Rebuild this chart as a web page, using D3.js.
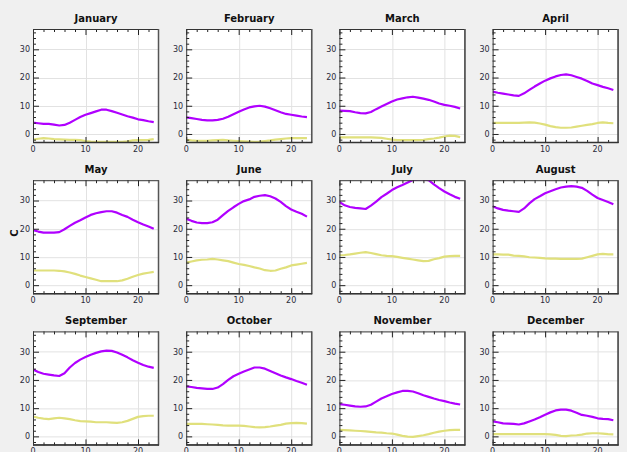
<!DOCTYPE html>
<html>
<head>
<meta charset="utf-8">
<script src="https://cdn.jsdelivr.net/npm/d3@7"></script>
<style>
  html, body { margin: 0; padding: 0; background: #f0f0f0; }
  svg { display: block; }
</style>
</head>
<body>
<script>
const months = ["January","February","March","April","May","June","July","August","September","October","November","December"];
const hours = d3.range(0, 24);
const xTicks = [0, 10, 20];
const yTicks = [0, 10, 20, 30];
const yLabel = "C";

// Daily max (purple) per month, hourly 0..23
const maxSeries = [
  [4.0,3.8,3.6,3.6,3.3,3.0,3.2,4.0,5.0,6.0,6.8,7.4,8.0,8.6,8.6,8.1,7.5,6.9,6.3,5.8,5.2,4.9,4.5,4.2],
  [5.9,5.6,5.3,5.0,4.8,4.8,5.0,5.4,6.1,7.0,7.9,8.7,9.4,9.8,10.0,9.7,9.1,8.4,7.7,7.1,6.8,6.5,6.2,6.0],
  [8.3,8.2,8.1,7.7,7.4,7.3,7.8,8.8,9.7,10.6,11.5,12.2,12.6,13.0,13.2,12.9,12.5,12.1,11.5,10.8,10.3,10.0,9.6,9.0],
  [15.0,14.6,14.3,14.0,13.7,13.5,14.4,15.6,16.8,17.9,18.9,19.7,20.4,20.9,21.1,20.8,20.2,19.6,18.8,17.9,17.3,16.7,16.2,15.6],
  [19.5,19.0,18.6,18.6,18.6,18.8,19.8,21.0,22.1,23.0,24.0,24.9,25.5,25.9,26.2,26.2,25.7,24.9,24.2,23.2,22.3,21.5,20.8,20.0],
  [23.5,22.8,22.2,22.0,22.0,22.3,23.2,24.8,26.3,27.6,28.8,29.8,30.4,31.3,31.7,31.9,31.5,30.7,29.5,28.0,26.8,26.0,25.3,24.3],
  [29.5,28.3,27.7,27.4,27.2,27.0,28.2,29.6,31.2,32.4,33.7,34.7,35.5,36.4,37.3,37.5,37.5,37.2,35.7,34.4,33.2,32.2,31.3,30.6],
  [28.0,27.2,26.7,26.4,26.2,26.0,27.2,29.0,30.5,31.5,32.6,33.3,34.0,34.6,34.9,35.1,34.9,34.5,33.4,32.1,30.9,30.2,29.5,28.7],
  [23.7,22.8,22.2,21.9,21.6,21.4,22.4,24.4,26.0,27.2,28.1,28.9,29.6,30.1,30.4,30.3,29.7,28.9,28.0,27.0,26.1,25.3,24.7,24.3],
  [17.7,17.5,17.2,17.0,16.8,16.8,17.3,18.5,20.0,21.3,22.2,23.0,23.7,24.4,24.4,24.0,23.2,22.4,21.6,20.9,20.3,19.6,19.0,18.3],
  [11.4,11.2,10.9,10.6,10.5,10.6,11.2,12.3,13.4,14.2,15.0,15.6,16.1,16.1,15.9,15.3,14.6,14.0,13.4,12.9,12.5,12.0,11.6,11.3],
  [5.3,5.0,4.6,4.5,4.4,4.2,4.6,5.3,6.0,6.8,7.7,8.5,9.2,9.5,9.5,9.1,8.4,7.6,7.3,6.9,6.4,6.2,6.1,5.7]
];

// Daily min (yellow) per month, hourly 0..23
const minSeries = [
  [-2.0,-1.7,-1.5,-1.6,-1.8,-1.9,-2.0,-2.1,-2.1,-2.2,-2.5,-2.7,-2.8,-2.8,-2.8,-2.8,-2.8,-2.8,-2.6,-2.3,-2.2,-2.2,-2.1,-1.8],
  [-2.1,-2.3,-2.4,-2.4,-2.4,-2.3,-2.2,-2.1,-2.3,-2.4,-2.5,-2.6,-2.7,-2.8,-2.7,-2.5,-2.3,-2.0,-1.8,-1.6,-1.5,-1.5,-1.5,-1.5],
  [-1.2,-1.2,-1.2,-1.2,-1.2,-1.2,-1.2,-1.3,-1.4,-1.7,-2.0,-2.2,-2.2,-2.2,-2.2,-2.2,-2.1,-1.8,-1.6,-1.3,-0.9,-0.6,-0.7,-1.1],
  [3.9,3.9,3.9,3.9,3.9,3.9,4.0,4.1,4.0,3.7,3.3,2.8,2.4,2.2,2.2,2.3,2.6,2.9,3.2,3.5,3.9,4.1,3.9,3.8],
  [5.2,5.2,5.2,5.2,5.2,5.1,4.9,4.5,4.0,3.4,2.9,2.4,1.9,1.4,1.4,1.4,1.4,1.7,2.3,3.0,3.6,4.1,4.4,4.7],
  [8.0,8.4,8.8,9.0,9.1,9.3,9.1,8.8,8.5,8.0,7.5,7.2,6.8,6.3,5.9,5.3,5.1,5.2,5.8,6.3,7.0,7.3,7.6,7.9],
  [10.6,10.7,10.9,11.2,11.5,11.7,11.4,11.0,10.6,10.4,10.3,10.0,9.7,9.4,9.1,8.8,8.5,8.6,9.2,9.6,10.1,10.3,10.4,10.4],
  [10.9,10.9,10.8,10.8,10.5,10.4,10.2,9.9,9.8,9.7,9.5,9.4,9.4,9.3,9.3,9.3,9.3,9.4,9.9,10.4,10.9,11.1,10.9,10.9],
  [7.0,6.6,6.3,6.1,6.4,6.6,6.4,6.1,5.7,5.4,5.3,5.2,5.0,5.0,5.0,4.9,4.8,5.0,5.5,6.2,6.9,7.2,7.3,7.3],
  [4.4,4.4,4.4,4.4,4.3,4.2,4.1,3.9,3.8,3.8,3.8,3.7,3.5,3.3,3.2,3.3,3.5,3.8,4.1,4.5,4.7,4.8,4.7,4.5],
  [2.3,2.2,2.1,2.0,1.9,1.8,1.6,1.4,1.3,1.1,1.0,0.6,0.2,-0.1,-0.2,0.1,0.4,0.8,1.3,1.7,2.0,2.2,2.3,2.3],
  [0.8,0.8,0.8,0.8,0.8,0.8,0.8,0.8,0.8,0.8,0.8,0.7,0.5,0.2,0.1,0.3,0.4,0.6,1.0,1.1,1.1,1.0,0.8,0.7]
];

const W = 627, H = 452;
const plotW = 126, plotH = 114;
const colX0 = 33, colStep = 153.2;
const rowY0 = 29, rowStep = 151.2;
const maxColor = "#b000ff";
const minColor = "#e0e07c";

const svg = d3.select("body").append("svg").attr("width", W).attr("height", H);
svg.append("rect").attr("width", W).attr("height", H).attr("fill", "#f0f0f0");

const x = d3.scaleLinear().domain([0, 24]).range([0, plotW]);
const y = d3.scaleLinear().domain([-3.2, 37.2]).range([plotH, 0]);

const defs = svg.append("defs");
defs.append("clipPath").attr("id", "clip")
  .append("rect").attr("x", 0).attr("y", 0).attr("width", plotW).attr("height", plotH);

const line = d3.line().x((d, i) => x(hours[i])).y(d => y(d));

months.forEach((m, k) => {
  const c = k % 4, r = Math.floor(k / 4);
  const g = svg.append("g").attr("transform", `translate(${colX0 + c * colStep},${rowY0 + r * rowStep})`);

  g.append("rect").attr("width", plotW).attr("height", plotH).attr("fill", "#fff");

  // grid
  g.append("g").selectAll("line").data(yTicks).join("line")
    .attr("x1", 0).attr("x2", plotW)
    .attr("y1", d => Math.round(y(d)) + 0.5).attr("y2", d => Math.round(y(d)) + 0.5)
    .attr("stroke", "#e2e2e2").attr("stroke-width", 1);
  g.append("g").selectAll("line").data(xTicks.filter(d => d > 0)).join("line")
    .attr("y1", 0).attr("y2", plotH)
    .attr("x1", d => Math.round(x(d)) + 0.5).attr("x2", d => Math.round(x(d)) + 0.5)
    .attr("stroke", "#e2e2e2").attr("stroke-width", 1);

  // series
  const lines = g.append("g").attr("clip-path", "url(#clip)");
  lines.append("path").attr("d", line(minSeries[k])).attr("fill", "none")
    .attr("stroke", minColor).attr("stroke-width", 2.2).attr("stroke-linejoin", "round");
  lines.append("path").attr("d", line(maxSeries[k])).attr("fill", "none")
    .attr("stroke", maxColor).attr("stroke-width", 2.2).attr("stroke-linejoin", "round");

  // left axis (ticks inward)
  const yAxis = d3.axisRight(y).tickValues(yTicks).tickSize(6).tickFormat("");
  g.append("g").call(yAxis).call(s => s.select(".domain").remove())
    .selectAll("line").attr("stroke", "#222");
  const yMinor = d3.range(-2, 37, 2).filter(v => v % 10 !== 0);
  g.append("g").call(d3.axisRight(y).tickValues(yMinor).tickSize(3).tickFormat(""))
    .call(s => s.select(".domain").remove()).selectAll("line").attr("stroke", "#222");
  g.append("g").selectAll("text").data(yTicks).join("text")
    .attr("x", -3).attr("y", d => y(d)).attr("dy", "0.35em")
    .attr("text-anchor", "end").attr("font-family", "DejaVu Sans").attr("font-size", 8)
    .attr("fill", "#2a2a3a").text(d => d);

  // top and bottom ticks
  const xMinor = d3.range(2, 24, 2).filter(v => v % 10 !== 0);
  g.append("g").call(d3.axisBottom(x).tickValues(xTicks).tickSize(6).tickFormat(""))
    .call(s => s.select(".domain").remove()).selectAll("line").attr("stroke", "#222");
  g.append("g").call(d3.axisBottom(x).tickValues(xMinor).tickSize(3).tickFormat(""))
    .call(s => s.select(".domain").remove()).selectAll("line").attr("stroke", "#222");
  g.append("g").attr("transform", `translate(0,${plotH})`)
    .call(d3.axisTop(x).tickValues(xTicks).tickSize(6).tickFormat(""))
    .call(s => s.select(".domain").remove()).selectAll("line").attr("stroke", "#222");
  g.append("g").attr("transform", `translate(0,${plotH})`)
    .call(d3.axisTop(x).tickValues(xMinor).tickSize(3).tickFormat(""))
    .call(s => s.select(".domain").remove()).selectAll("line").attr("stroke", "#222");
  g.append("g").selectAll("text").data(xTicks).join("text")
    .attr("x", d => x(d)).attr("y", plotH + 9)
    .attr("text-anchor", "middle").attr("font-family", "DejaVu Sans").attr("font-size", 8)
    .attr("fill", "#2a2a3a").text(d => d);

  // frame
  g.append("rect").attr("x", 0.5).attr("y", 0.5).attr("width", plotW - 1).attr("height", plotH - 1)
    .attr("fill", "none").attr("stroke", "#333").attr("stroke-width", 1);
  g.append("line").attr("x1", plotW - 0.5).attr("x2", plotW - 0.5).attr("y1", 0).attr("y2", plotH)
    .attr("stroke", "#555").attr("stroke-width", 1.5);
  g.append("line").attr("x1", 0).attr("x2", plotW).attr("y1", plotH - 0.5).attr("y2", plotH - 0.5)
    .attr("stroke", "#333").attr("stroke-width", 1.5);

  // title
  g.append("text").attr("x", plotW / 2).attr("y", -7.5)
    .attr("text-anchor", "middle").attr("font-family", "DejaVu Sans").attr("font-weight", "bold")
    .attr("font-size", 10).attr("fill", "#111").text(m);
});

// y label
svg.append("text").attr("transform", `translate(17.5,${rowY0 + rowStep + 53}) rotate(-90)`)
  .attr("text-anchor", "middle").attr("font-family", "DejaVu Sans").attr("font-weight", "bold")
  .attr("font-size", 10).attr("fill", "#111").text(yLabel);
</script>
</body>
</html>
